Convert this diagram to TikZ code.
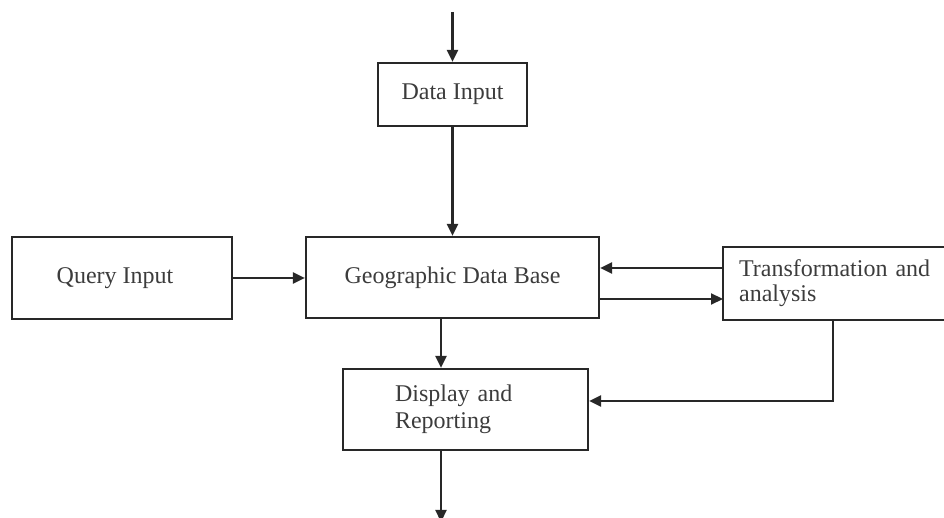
\documentclass[tikz,border=0pt]{standalone}
\usepackage{fontspec}
\setmainfont{Liberation Serif}
\usepackage{xcolor}
\usetikzlibrary{arrows.meta,positioning}
\definecolor{gis_line}{RGB}{40,40,40}
\definecolor{gis_text}{RGB}{60,60,60}

\begin{document}
\begin{tikzpicture}[x=0.5pt, y=-0.5pt,
          font=\fontsize{12}{12.5}\selectfont,
          blk/.style={draw=gis_line, line width=1.1pt, text=gis_text,
                      inner sep=0pt, align=center},
          arr/.style={-{Triangle[length=6pt,width=5.5pt]}, draw=gis_line, line width=1.1pt}]
        \useasboundingbox (0,0) rectangle (944,518);
        \node[blk, minimum width=74.5pt, minimum height=31.5pt] (datain) at (452.5,94.5) {Data Input};
        \node[blk, minimum width=146.5pt, minimum height=40.5pt] (geo) at (452.5,277.5) {Geographic Data Base};
        \node[blk, minimum width=110pt, minimum height=41pt] (query) at (122,278) {Query Input\hspace*{7pt}};
        % box is cut off by the right edge, so no right side
        \node[blk, draw=none, anchor=west, align=left, text width=103pt, inner xsep=7.5pt, minimum height=35.5pt] (trans) at (723,283.5)
          {Transformation and\\analysis};
        \draw[gis_line, line width=1.1pt] (trans.north -| 950,0) -- (trans.north west)
          -- (trans.south west) -- (trans.south -| 950,0);
        \node[blk, align=left, text width=70.5pt, inner xsep=26pt, minimum height=40.5pt,
              font=\fontsize{12}{13.5}\selectfont] (disp) at (465.5,409.5)
          {Display and\\Reporting};
        \coordinate (top) at (452.5,12);
        \coordinate (bot) at (441,522);
        \coordinate (t-in) at ([yshift=7.75pt]trans.west);
        \coordinate (t-out) at ([yshift=-7.75pt]trans.west);
        \coordinate (g-out) at ([xshift=-5.75pt]geo.south);
        \coordinate (t-down) at (833,0 |- trans.south);
        \coordinate (d-in) at ([yshift=4.25pt]disp.east);
        \draw[arr] (top) -- (datain);
        \draw[arr] (datain) -- (geo);
        \draw[arr] (query.east) -- (query.east -| geo.west);
        \draw[arr] (t-in) -- (t-in -| geo.east);
        \draw[arr] (t-out -| geo.east) -- (t-out);
        \draw[arr] (g-out) -- (g-out |- disp.north);
        \draw[arr] (t-down) |- (d-in);
        \draw[arr] (g-out |- disp.south) -- (bot);
      \end{tikzpicture}
\end{document}
